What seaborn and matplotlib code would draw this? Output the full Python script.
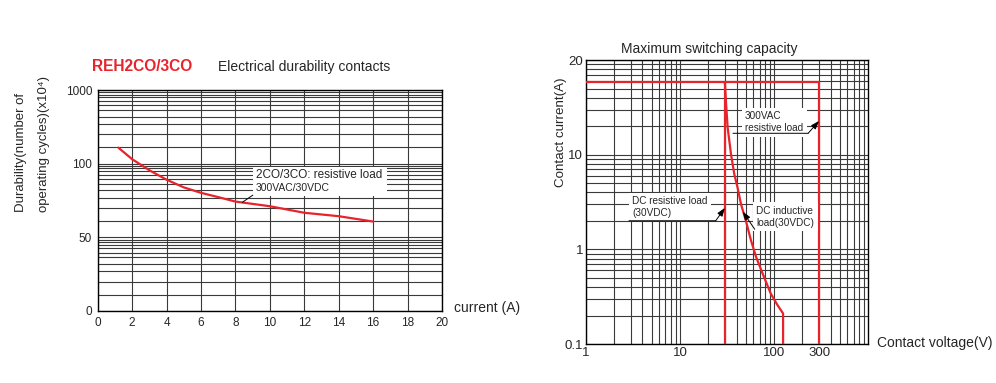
import numpy as np
import matplotlib
matplotlib.use("Agg")
import matplotlib.pyplot as plt
from matplotlib.patches import Rectangle
import seaborn as sns

# left chart: electrical durability vs current
current_a = [1.2, 2, 3, 4, 5, 6, 7, 8, 10, 12, 14, 16]
durability = [165, 115, 94, 86, 80, 76, 73, 70, 67, 63, 61, 58]
dur_ticks = [0, 50, 100, 1000]
cur_ticks = list(range(0, 21, 2))

# right chart: maximum switching capacity
ac_volt = [1, 300, 300]
ac_curr = [17, 17, 0.1]
dcr_volt = [30, 30]
dcr_curr = [17, 0.1]
dci_volt = [30, 30.9, 32.1, 34.9, 37.8, 40.9, 44.5, 50.2, 56.7, 64.1, 75.2, 92.2, 108, 124.5, 124.5]
dci_curr = [17, 14.5, 12.2, 10, 6.2, 4.5, 3.0, 2.0, 1.25, 0.84, 0.56, 0.34, 0.26, 0.21, 0.1]
volt_ticks = [1, 10, 100, 300]
curr_ticks = [0.1, 1, 10, 20]

RED = "#e8232b"
GRID = "#3a3a3a"

sns.set_style("white")
plt.rcParams["font.family"] = ["Liberation Sans", "DejaVu Sans"]


# the printed log paper: each labelled step takes one decade
def fwd_left(v):
    v = np.asarray(v, dtype=float)
    return np.where(v <= 50, v / 50,
                    np.where(v <= 100, 1 + np.log2(np.clip(v, 50, None) / 50),
                             2 + np.log10(np.clip(v, 100, None) / 100)))


def inv_left(p):
    p = np.asarray(p, dtype=float)
    return np.where(p <= 1, p * 50, np.where(p <= 2, 50 * 2 ** (p - 1), 100 * 10 ** (p - 2)))


def fwd_right(v):
    v = np.asarray(v, dtype=float)
    return np.where(v <= 10, np.log10(np.clip(v, 1e-9, None)),
                    1 + np.log2(np.clip(v, 10, None) / 10))


def inv_right(p):
    p = np.asarray(p, dtype=float)
    return np.where(p <= 1, 10.0 ** p, 10 * 2 ** (p - 1))


fig = plt.figure(figsize=(9.96, 3.83), dpi=100)
ax1 = fig.add_axes([0.0981, 0.188, 0.3457, 0.577])
ax2 = fig.add_axes([0.5881, 0.1018, 0.2837, 0.7415])

# ---- left panel
sns.lineplot(x=current_a, y=durability, ax=ax1, color=RED, lw=1.6,
             sort=False, estimator=None, zorder=4)
ax1.set_yscale("function", functions=(fwd_left, inv_left))
ax1.set_xlim(0, 20)
ax1.set_ylim(0, 1000)
ax1.set_xticks(cur_ticks)
ax1.set_yticks(dur_ticks)
ax1.set_yticklabels([str(t) for t in dur_ticks])
paper_frac = [0.032, 0.065, 0.10, 0.15, 0.21, 0.27, 0.36, 0.46, 0.60, 0.78]
minor_p = [d + 1 - f for d in range(3) for f in paper_frac]
ax1.set_yticks(inv_left(minor_p), minor=True)
ax1.grid(True, which="both", axis="y", color=GRID, lw=0.8)
ax1.grid(True, which="major", axis="x", color=GRID, lw=0.8)
ax1.tick_params(which="both", length=0, labelsize=8.5, pad=4)
ax1.set_xlabel("")
ax1.set_ylabel("")

ax1.add_patch(Rectangle((0.451, 0.52), 0.389, 0.132, transform=ax1.transAxes,
                        fc="white", ec="none", zorder=5))
ax1.text(0.46, 0.615, "2CO/3CO: resistive load", transform=ax1.transAxes,
         ha="left", va="center", fontsize=8.5, zorder=6)
ax1.annotate("300VAC/30VDC", xy=(8.4, 69.5), xycoords="data",
             xytext=(0.46, 0.557), textcoords="axes fraction",
             ha="left", va="center", fontsize=7.5, zorder=6,
             arrowprops=dict(arrowstyle="-", lw=0.7, color="k",
                             relpos=(0, 0), shrinkA=0, shrinkB=0))

fig.text(0.1427, 0.826, "REH2CO/3CO", color=RED, fontsize=11.2,
         fontweight="bold", ha="center", va="center")
fig.text(0.3053, 0.826, "Electrical durability contacts", fontsize=10,
         ha="center", va="center")
fig.text(0.0206, 0.447, "Durability(number of", rotation=90,
         ha="center", va="bottom", fontsize=9.5)
fig.text(0.0437, 0.447, "operating cycles)(x10\u2074)", rotation=90,
         ha="center", va="bottom", fontsize=9.5)
fig.text(0.456, 0.196, "current (A)", fontsize=10, ha="left", va="center")

# ---- right panel
sns.lineplot(x=ac_volt, y=ac_curr, ax=ax2, color=RED, lw=1.6,
             sort=False, estimator=None, zorder=4)
sns.lineplot(x=dcr_volt, y=dcr_curr, ax=ax2, color=RED, lw=1.6,
             sort=False, estimator=None, zorder=4)
sns.lineplot(x=dci_volt, y=dci_curr, ax=ax2, color=RED, lw=1.6,
             sort=False, estimator=None, zorder=4)
ax2.set_xscale("log")
ax2.set_yscale("function", functions=(fwd_right, inv_right))
ax2.set_xlim(1, 1000)
ax2.set_ylim(0.1, 20)
ax2.set_xticks(volt_ticks)
ax2.set_xticklabels([str(t) for t in volt_ticks])
ax2.set_xticks([k * 10 ** d for d in range(3) for k in range(2, 10)], minor=True)
ax2.set_xticklabels([], minor=True)
ax2.set_yticks(curr_ticks)
ax2.set_yticklabels([f"{t:g}" for t in curr_ticks])
minor_r = [d + np.log10(k) for d in (-1, 0, 1) for k in range(2, 10)]
ax2.set_yticks(inv_right(minor_r), minor=True)
ax2.set_yticklabels([], minor=True)
ax2.grid(True, which="both", color=GRID, lw=0.8)
ax2.tick_params(which="both", length=0, labelsize=9.5, pad=2)
ax2.set_xlabel("")
ax2.set_ylabel("")

lbl = dict(fontsize=7.2, ha="left", va="center", zorder=6,
           bbox=dict(fc="white", ec="none", pad=2.5))
head = dict(arrowstyle="-|>,head_length=0.5,head_width=0.18", lw=0.7,
            color="k", shrinkA=0, shrinkB=0, mutation_scale=10)
line = dict(arrowstyle="-", lw=0.7, color="k", shrinkA=0, shrinkB=0)

ax2.text(0.564, 0.781, "300VAC\nresistive load", transform=ax2.transAxes, **lbl)
ax2.annotate("", xy=(0.787, 0.742), xytext=(0.521, 0.742),
             xycoords="axes fraction", arrowprops=line, zorder=6)
ax2.annotate("", xy=(300, 12.8), xytext=(0.787, 0.742), xycoords="data",
             textcoords="axes fraction", arrowprops=head, zorder=6)

ax2.text(0.165, 0.482, "DC resistive load\n(30VDC)", transform=ax2.transAxes, **lbl)
ax2.annotate("", xy=(0.46, 0.434), xytext=(0.153, 0.434),
             xycoords="axes fraction", arrowprops=line, zorder=6)
ax2.annotate("", xy=(30, 2.74), xytext=(0.46, 0.434), xycoords="data",
             textcoords="axes fraction", arrowprops=head, zorder=6)

ax2.text(0.603, 0.448, "DC inductive\nload(30VDC)", transform=ax2.transAxes, **lbl)
ax2.annotate("", xy=(46.5, 2.5), xytext=(0.598, 0.404), xycoords="data",
             textcoords="axes fraction", arrowprops=head, zorder=6)

fig.text(0.7124, 0.871, "Maximum switching capacity", fontsize=10,
         ha="center", va="center")
fig.text(0.563, 0.655, "Contact current(A)", rotation=90, fontsize=9.6,
         ha="center", va="center")
fig.text(0.8802, 0.1036, "Contact voltage(V)", fontsize=10, ha="left", va="center")

for ax in (ax1, ax2):
    for s in ax.spines.values():
        s.set_visible(True)
        s.set_color("black")
        s.set_linewidth(1.0)

fig.savefig("out.png", dpi=100)
